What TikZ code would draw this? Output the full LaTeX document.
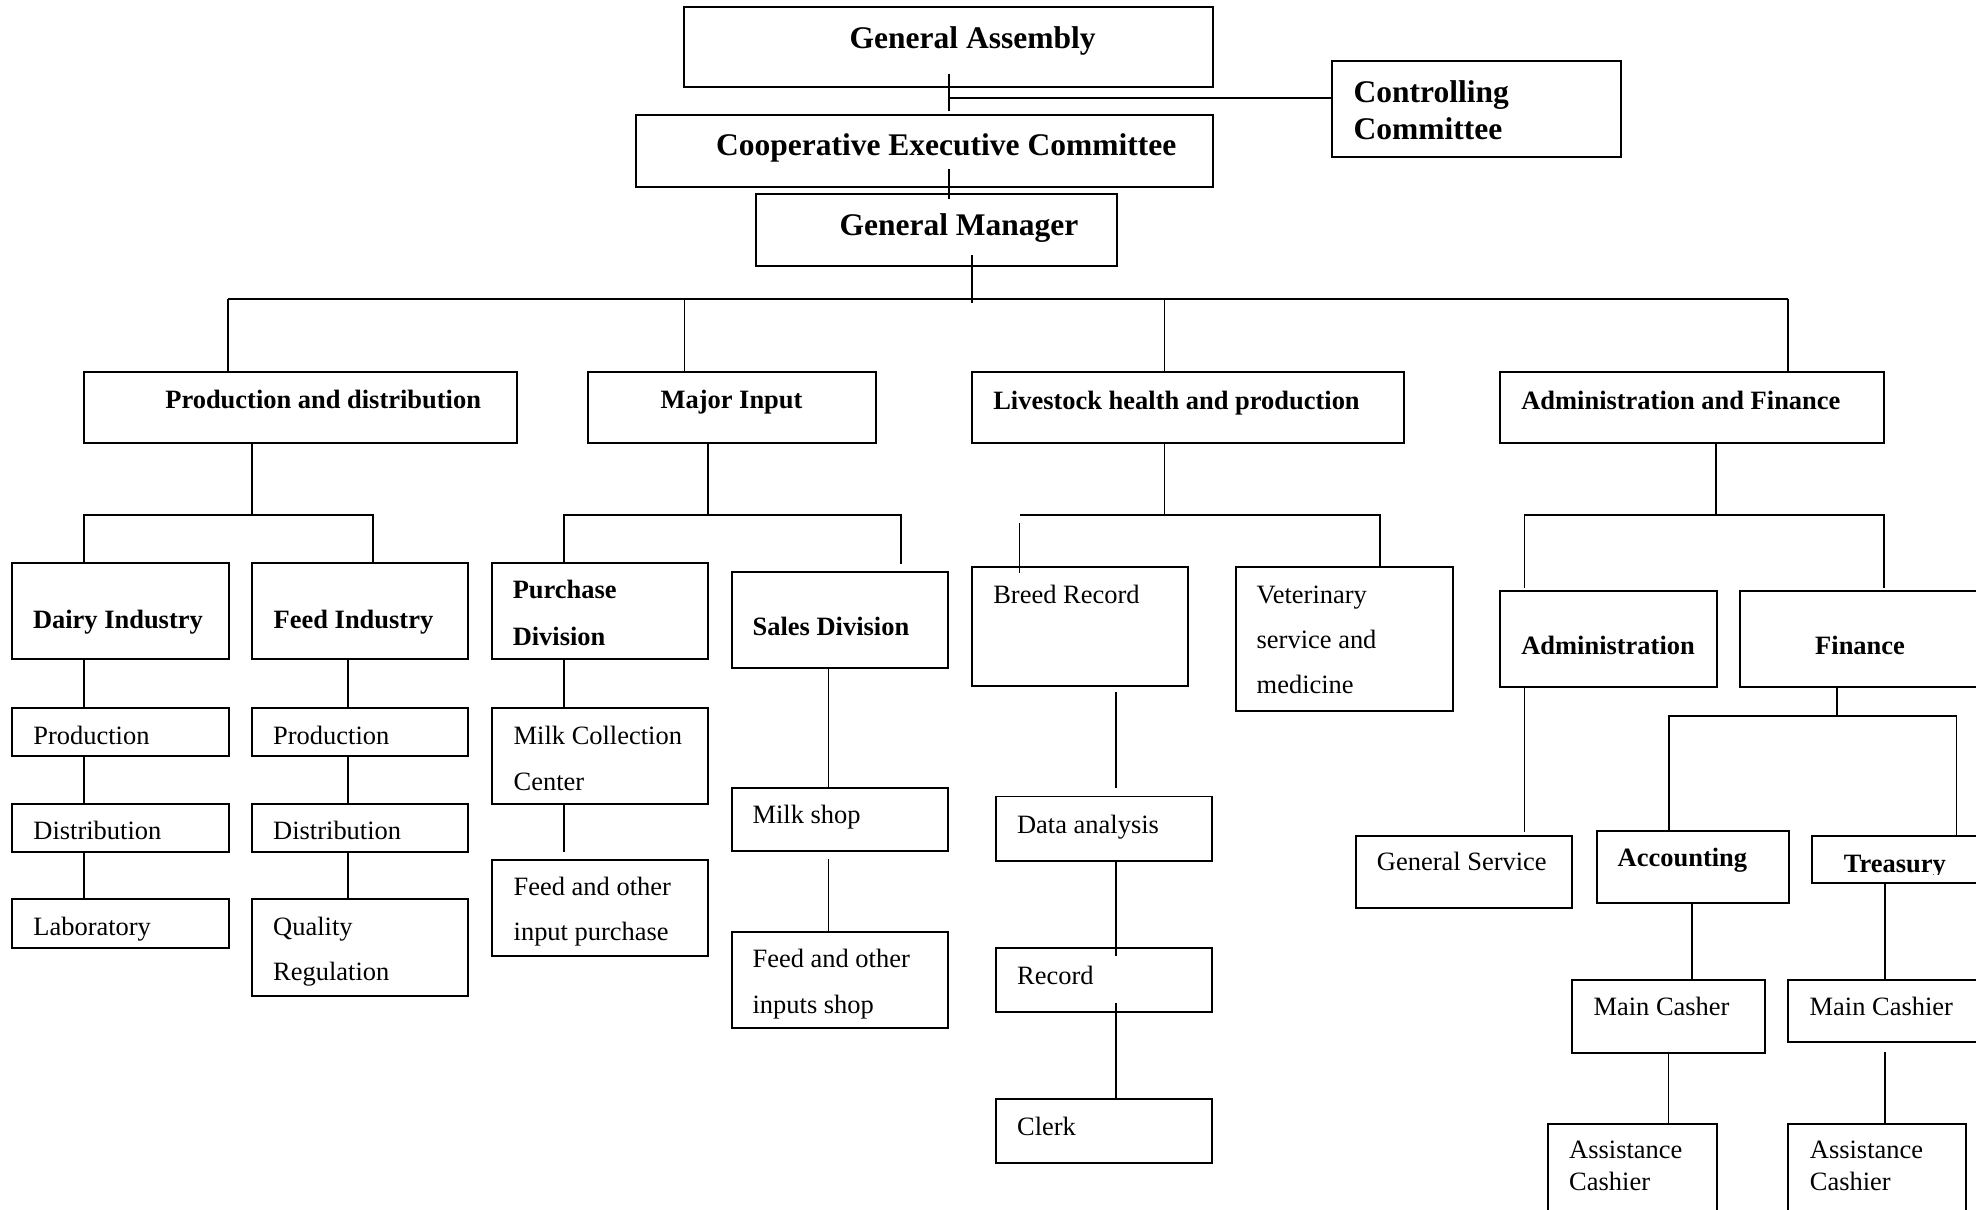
\documentclass[tikz,border=0pt]{standalone}
\usepackage{fontspec}
\setmainfont{Liberation Serif}
\usetikzlibrary{calc}

% a ruled box given by its corners (x1,y1) and (x2,y2)
\newcommand\orgbox[5]{%
  \node[orgrect, minimum width={#4-#2}, minimum height={#5-#3}]
    (#1) at ({(#2+#4)/2},{(#3+#5)/2}) {};}
% several lines of text, first baseline on the node's base
\newcommand\stack[3]{\fontsize{#1}{#2}\selectfont\begin{tabular}[t]{@{}l@{}}#3\end{tabular}}

\begin{document}
\begin{tikzpicture}[x=1pt,y=-1pt,
  orgrect/.style={draw, rectangle, line width=1.5pt, inner sep=0pt, outer sep=0pt},
  link/.style={line width=1.4pt},
  txt/.style={inner sep=0pt, anchor=base west, font=\fontsize{21}{36}\selectfont},
  btxt/.style={txt, font=\fontsize{21}{36}\selectfont\bfseries},
  ttl/.style={inner sep=0pt, anchor=base west, font=\fontsize{25}{29}\selectfont\bfseries}]

\useasboundingbox (0,0) rectangle (1568,960);
\fill[white] (0,0) rectangle (1568,960);
\clip (0,0) rectangle (1568,960);

% ---------- boxes ----------
\orgbox{GA}{542.7}{5.8}{962.4}{69.3}
\orgbox{CC}{1056.7}{48.4}{1286}{124.3}
\orgbox{CEC}{504.4}{91.3}{962.4}{148.1}
\orgbox{GM}{600.2}{154}{886.7}{210.8}

\orgbox{PD}{66.6}{294.9}{409.9}{351.8}
\orgbox{MI}{466.6}{294.9}{695}{351.8}
\orgbox{LH}{771.3}{294.9}{1114.4}{351.8}
\orgbox{AF}{1190.3}{294.9}{1495.1}{351.8}

\orgbox{DI}{9.5}{447}{181.4}{523}
\orgbox{FI}{200.2}{447}{371.6}{523}
\orgbox{DP}{9.5}{561.5}{181.4}{599.7}
\orgbox{DD}{9.5}{638}{181.4}{676}
\orgbox{DL}{9.5}{713.7}{181.4}{752}
\orgbox{FP}{200.2}{561.5}{371.6}{599.7}
\orgbox{FD}{200.2}{638}{371.6}{676}
\orgbox{FQ}{200.2}{713.7}{371.6}{790}

\orgbox{PU}{390.4}{447}{561.8}{523.2}
\orgbox{SD}{581}{453.6}{752.5}{530.3}
\orgbox{MCC}{390.7}{561.5}{561.8}{638}
\orgbox{FIP}{390.7}{682.4}{561.8}{758.4}
\orgbox{MS}{581}{625}{752.5}{675.6}
\orgbox{FIS}{581}{739.3}{752.5}{815.5}

\orgbox{BR}{771.6}{449.7}{942.8}{544.7}
\orgbox{VS}{980.8}{449.7}{1152.7}{564}
\orgbox{DA}{790.2}{632}{962}{683}
\orgbox{RC}{790.2}{752.5}{962}{802.9}
\orgbox{CL}{790.2}{872.3}{962}{923}

\orgbox{AD}{1190.3}{468.7}{1362.3}{544.9}
\orgbox{FN}{1380.9}{469}{1600}{544.9}
\orgbox{GS}{1076.3}{663.1}{1247.7}{720.4}
\orgbox{AC}{1267}{659.2}{1419.6}{716.5}
\orgbox{TR}{1438}{663.4}{1600}{701}
\orgbox{MCa}{1247.7}{777.7}{1400.4}{835.5}
\orgbox{MCb}{1419}{777.7}{1600}{826.9}
\orgbox{ASa}{1228.7}{892}{1362.2}{975}
\orgbox{ASb}{1419}{892}{1560}{975}

% ---------- texts ----------
\node[ttl] (tGA) at (674,38.5) {General Assembly};
\node[ttl] (tCC) at (1074,81.5) {\stack{25}{29}{Controlling\\Committee}};
\node[ttl] (tCEC) at (568,123.5) {Cooperative Executive Committee};
\node[ttl] (tGM) at (666,187) {General Manager};

\node[btxt] (tPD) at (131,324) {Production and distribution};
\node[btxt] (tMI) at (524,324.5) {Major Input};
\node[btxt] (tLH) at (788,325) {Livestock health and production};
\node[btxt] (tAF) at (1207,325) {Administration and Finance};

\node[btxt] (tDI) at (26,498.5) {Dairy Industry};
\node[btxt] (tFI) at (217,498.5) {Feed Industry};
\node[txt] (tDP) at (26.3,590.5) {Production};
\node[txt] (tDD) at (26.3,666) {Distribution};
\node[txt] (tDL) at (26.3,742.5) {Laboratory};
\node[txt] (tFP) at (216.6,590.5) {Production};
\node[txt] (tFD) at (216.6,666) {Distribution};
\node[txt] (tFQ) at (216.6,742.5) {\stack{21}{35.7}{Quality\\Regulation}};

\node[btxt] (tPU) at (406.7,475.2) {\stack{21}{37.2}{Purchase\\Division}};
\node[btxt] (tSD) at (597,504.5) {Sales Division};
\node[txt] (tMCC) at (407.4,590.5) {\stack{21}{36.5}{Milk Collection\\Center}};
\node[txt] (tFIP) at (407.4,710.8) {\stack{21}{35.8}{Feed and other\\input purchase}};
\node[txt] (tMS) at (597,653.5) {Milk shop};
\node[txt] (tFIS) at (597,767.6) {\stack{21}{37}{Feed and other\\inputs shop}};

\node[txt] (tBR) at (788,478.8) {Breed Record};
\node[txt] (tVS) at (997,478.6) {\stack{21}{36}{Veterinary\\service and\\medicine}};
\node[txt] (tDA) at (806.9,661) {Data analysis};
\node[txt] (tRC) at (806.9,781.4) {Record};
\node[txt] (tCL) at (806.9,901) {Clerk};

\node[btxt] (tAD) at (1207,519) {Administration};
\node[btxt, anchor=base] (tFN) at (1476,519.6) {Finance};
\node[txt] (tGS) at (1092.4,690.6) {General Service};
\node[btxt] (tAC) at (1283.5,687.8) {Accounting};
\begin{scope}
  \clip (TR.north west) rectangle (1600,693.6);
  \node[btxt] (tTR) at (1463,692.2) {Treasury};
\end{scope}
\node[txt] (tMCa) at (1264.3,806) {Main Casher};
\node[txt] (tMCb) at (1435.8,805.6) {Main Cashier};
\node[txt] (tASa) at (1245,919.6) {\stack{21}{25}{Assistance\\Cashier}};
\node[txt] (tASb) at (1436,919.6) {\stack{21}{25}{Assistance\\Cashier}};

% ---------- connector columns and rails ----------
\coordinate (xGA) at (753,0);
\coordinate (xGM) at (771.3,0);
\coordinate (xPD) at (181,0);
\coordinate (xMI) at (543.1,0);
\coordinate (xLH) at (924,0);
\coordinate (xAF) at (1419,0);
\coordinate (xPDd) at (200.2,0);
\coordinate (xDI) at (66.6,0);
\coordinate (xFIu) at (295.8,0);
\coordinate (xFIl) at (276.3,0);
\coordinate (xMId) at (562,0);
\coordinate (xPU) at (447.4,0);
\coordinate (xSA) at (714.7,0);
\coordinate (xSAl) at (657.4,0);
\coordinate (xBR) at (809,0);
\coordinate (xVS) at (1095,0);
\coordinate (xBRl) at (885.6,0);
\coordinate (xAFd) at (1361.7,0);
\coordinate (xAD) at (1209.7,0);
\coordinate (xFN) at (1495.1,0);
\coordinate (xFNd) at (1457.5,0);
\coordinate (xAC) at (1324.1,0);
\coordinate (xTR) at (1552.5,0);
\coordinate (xACl) at (1342.7,0);
\coordinate (xMCa) at (1324,0);
\coordinate (xTRl) at (1495.5,0);
\coordinate (bus) at (0,237.5);
\coordinate (bus3) at (0,408.9);
\coordinate (bus4) at (0,568.2);
\coordinate (jCC) at (753,77.5);

% ---------- connectors ----------
\draw[link] ($(GA.south -| xGA)+(0,-10.6)$) -- ($(CEC.north -| xGA)+(0,-3.5)$);
\draw[link] (jCC) -- (jCC -| CC.west);
\draw[link] ($(CEC.south -| xGA)+(0,-13.7)$) -- ($(GM.north -| xGA)+(0,3.7)$);
\draw[link] ($(GM.south -| xGM)+(0,-8.4)$) -- ($(bus -| xGM)+(0,3)$);

\draw[link] (bus -| xPD) -- (bus -| xAF);
\draw[link] (bus -| xPD) -- (PD.north -| xPD);
\draw[link] (bus -| xMI) -- (MI.north -| xMI);
\draw[link] (bus -| xLH) -- (LH.north -| xLH);
\draw[link] (bus -| xAF) -- (AF.north -| xAF);

% production and distribution
\draw[link] (PD.south -| xPDd) -- (bus3 -| xPDd);
\draw[link] (DI.north -| xDI) -- (bus3 -| xDI) -- (bus3 -| xFIu) -- (FI.north -| xFIu);
\draw[link] (DI.south -| xDI) -- (DP.north -| xDI);
\draw[link] (DP.south -| xDI) -- (DD.north -| xDI);
\draw[link] (DD.south -| xDI) -- (DL.north -| xDI);
\draw[link] (FI.south -| xFIl) -- (FP.north -| xFIl);
\draw[link] (FP.south -| xFIl) -- (FD.north -| xFIl);
\draw[link] (FD.south -| xFIl) -- (FQ.north -| xFIl);

% major input
\draw[link] (MI.south -| xMId) -- (bus3 -| xMId);
\draw[link] (PU.north -| xPU) -- (bus3 -| xPU) -- (bus3 -| xSA) -- ($(SD.north -| xSA)+(0,-6.1)$);
\draw[link] (PU.south -| xPU) -- (MCC.north -| xPU);
\draw[link] (MCC.south -| xPU) -- ($(FIP.north -| xPU)+(0,-6.6)$);
\draw[link] (SD.south -| xSAl) -- (MS.north -| xSAl);
\draw[link] ($(MS.south -| xSAl)+(0,6.3)$) -- (FIS.north -| xSAl);

% livestock health and production
\draw[link] (LH.south -| xLH) -- (bus3 -| xLH);
\draw[link] (bus3 -| xBR) -- (bus3 -| xVS) -- (VS.north -| xVS);
\draw[link] ($(bus3 -| xBR)+(0,6.1)$) -- ($(BR.north -| xBR)+(0,4.7)$);
\draw[link] ($(BR.south -| xBRl)+(0,4.3)$) -- ($(DA.north -| xBRl)+(0,-7)$);
\draw[link] (DA.south -| xBRl) -- ($(RC.north -| xBRl)+(0,6.2)$);
\draw[link] ($(RC.south -| xBRl)+(0,-6.9)$) -- (CL.north -| xBRl);

% administration and finance
\draw[link] (AF.south -| xAFd) -- (bus3 -| xAFd);
\draw[link] ($(AD.north -| xAD)+(0,-1.8)$) -- (bus3 -| xAD) -- (bus3 -| xFN) -- ($(FN.north -| xFN)+(0,-2.1)$);
\draw[link] (AD.south -| xAD) -- ($(GS.north -| xAD)+(0,-3.1)$);
\draw[link] (FN.south -| xFNd) -- (bus4 -| xFNd);
\draw[link] (AC.north -| xAC) -- (bus4 -| xAC) -- (bus4 -| xTR) -- (TR.north -| xTR);
\draw[link] (AC.south -| xACl) -- (MCa.north -| xACl);
\draw[link] (MCa.south -| xMCa) -- (ASa.north -| xMCa);
\draw[link] (TR.south -| xTRl) -- (MCb.north -| xTRl);
\draw[link] ($(MCb.south -| xTRl)+(0,7.7)$) -- (ASb.north -| xTRl);
\end{tikzpicture}
\end{document}
